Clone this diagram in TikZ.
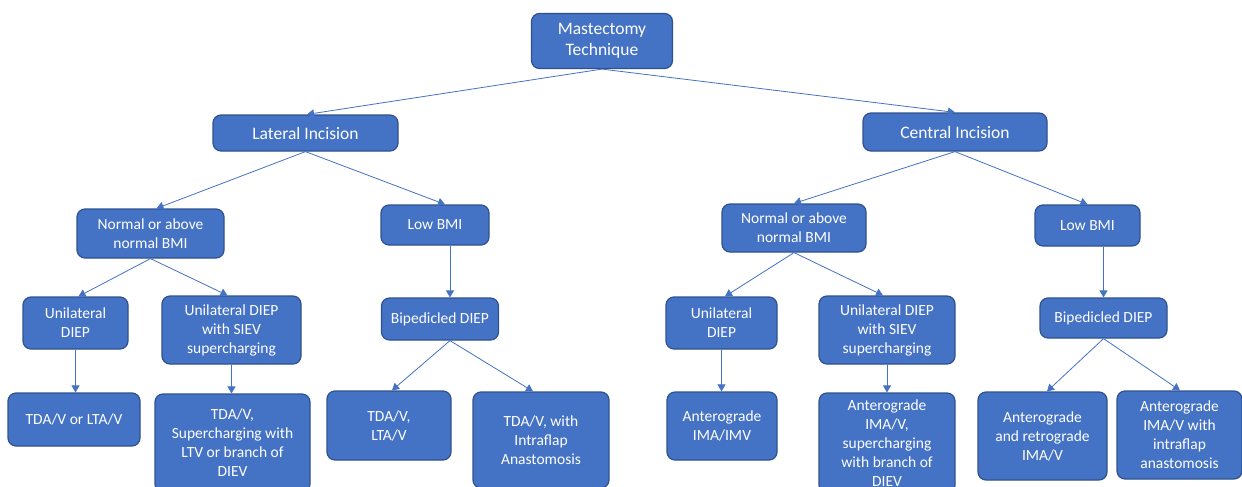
\documentclass[tikz,border=0pt]{standalone}
\usepackage{fontspec}
\setmainfont{Carlito}
\usetikzlibrary{arrows.meta}
\definecolor{boxfill}{HTML}{4472C4}
\definecolor{boxline}{HTML}{2F528F}
\definecolor{edgecol}{HTML}{4472C4}
\tikzset{
  box/.style={draw=boxline, line width=1.2pt, fill=boxfill, rounded corners=8pt,
    text=white, align=center, inner sep=2pt,
    font=\fontsize{15.5}{19}\selectfont},
  bigbox/.style={box, font=\fontsize{17.5}{21}\selectfont},
  conn/.style={draw=edgecol, line width=0.8pt, -{Triangle[width=8pt,length=7pt]}}
}
\newcommand{\bx}[7][]{\node[box, #1, minimum width=#5pt, minimum height=#6pt] (#2) at (#3,#4) {#7};}
\begin{document}
\begin{tikzpicture}[x=1pt,y=-1pt]
\useasboundingbox[fill=white] (0,0) rectangle (1242,487);
\bx[bigbox]{mt}{602}{41}{141}{55}{Mastectomy\\Technique}
\bx[bigbox]{lat}{305.5}{133}{185}{36}{Lateral Incision}
\bx[bigbox]{cen}{955}{132}{184}{38}{Central Incision}
\bx{nl}{150.5}{233.5}{147}{49}{Normal or above\\normal BMI}
\bx{ll}{435}{225}{108}{40}{Low BMI}
\bx{nr}{794}{228}{144}{48}{Normal or above\\normal BMI}
\bx{lr}{1087.5}{225.5}{105}{41}{Low BMI}
\bx{ul}{75.5}{323}{105}{52}{Unilateral\\DIEP}
\bx{sl}{231.5}{330}{139}{68}{Unilateral DIEP\\with SIEV\\supercharging}
\bx{bl}{440}{319}{117}{42}{Bipedicled DIEP}
\bx{ur}{721.5}{323}{111}{52}{Unilateral\\DIEP}
\bx{sr}{887}{330}{136}{68}{Unilateral DIEP\\with SIEV\\supercharging}
\bx{br}{1103.5}{318}{127}{40}{Bipedicled DIEP}
\bx{t1}{74}{419.5}{132}{53}{TDA/V or LTA/V}
\bx{t2}{232.5}{443}{155}{98}{TDA/V,\\Supercharging with\\LTV or branch of\\DIEV}
\bx{t3}{389}{425.5}{124}{69}{TDA/V,\\LTA/V}
\bx{t4}{541}{440}{136}{96}{TDA/V, with\\Intraflap\\Anastomosis}
\bx{t5}{722}{426}{110}{68}{Anterograde\\IMA/IMV}
\bx{t6}{887}{443}{136}{100}{Anterograde\\IMA/V,\\supercharging\\with branch of\\DIEV}
\bx{t7}{1042.5}{436}{129}{88}{Anterograde\\and retrograde\\IMA/V}
\bx{t8}{1179.5}{435}{125}{88}{Anterograde\\IMA/V with\\intraflap\\anastomosis}
% connectors
\draw[conn] (mt.south) -- ([xshift=1.5pt]lat.north);
\draw[conn] (mt.south) -- (cen.north);
\draw[conn] (lat.south) -- ([xshift=6pt]nl.north);
\draw[conn] (lat.south) -- ([xshift=10pt]ll.north);
\draw[conn] (cen.south) -- (nr.north);
\draw[conn] (cen.south) -- (lr.north);
\draw[conn] (nl.south) -- ([xshift=3pt]ul.north);
\draw[conn] (nl.south) -- ([xshift=-4pt]sl.north);
\draw[conn] (ul.south) -- (ul.south |- t1.north);
\draw[conn] (sl.south) -- (sl.south |- t2.north);
\draw[conn] ([xshift=15pt]ll.south) -- ([xshift=10pt]bl.north);
\draw[conn] ([xshift=10pt]bl.south) -- ([xshift=3pt]t3.north);
\draw[conn] ([xshift=10pt]bl.south) -- ([xshift=-8pt]t4.north);
\draw[conn] (nr.south) -- ([xshift=3.5pt]ur.north);
\draw[conn] (nr.south) -- ([xshift=-4pt]sr.north);
\draw[conn] (ur.south) -- (ur.south |- t5.north);
\draw[conn] (sr.south) -- (sr.south |- t6.north);
\draw[conn] ([xshift=16pt]lr.south) -- ([xshift=0pt]br.north);
\draw[conn] (br.south) -- ([xshift=4.5pt]t7.north);
\draw[conn] (br.south) -- ([xshift=0.5pt]t8.north);
\end{tikzpicture}
\end{document}
